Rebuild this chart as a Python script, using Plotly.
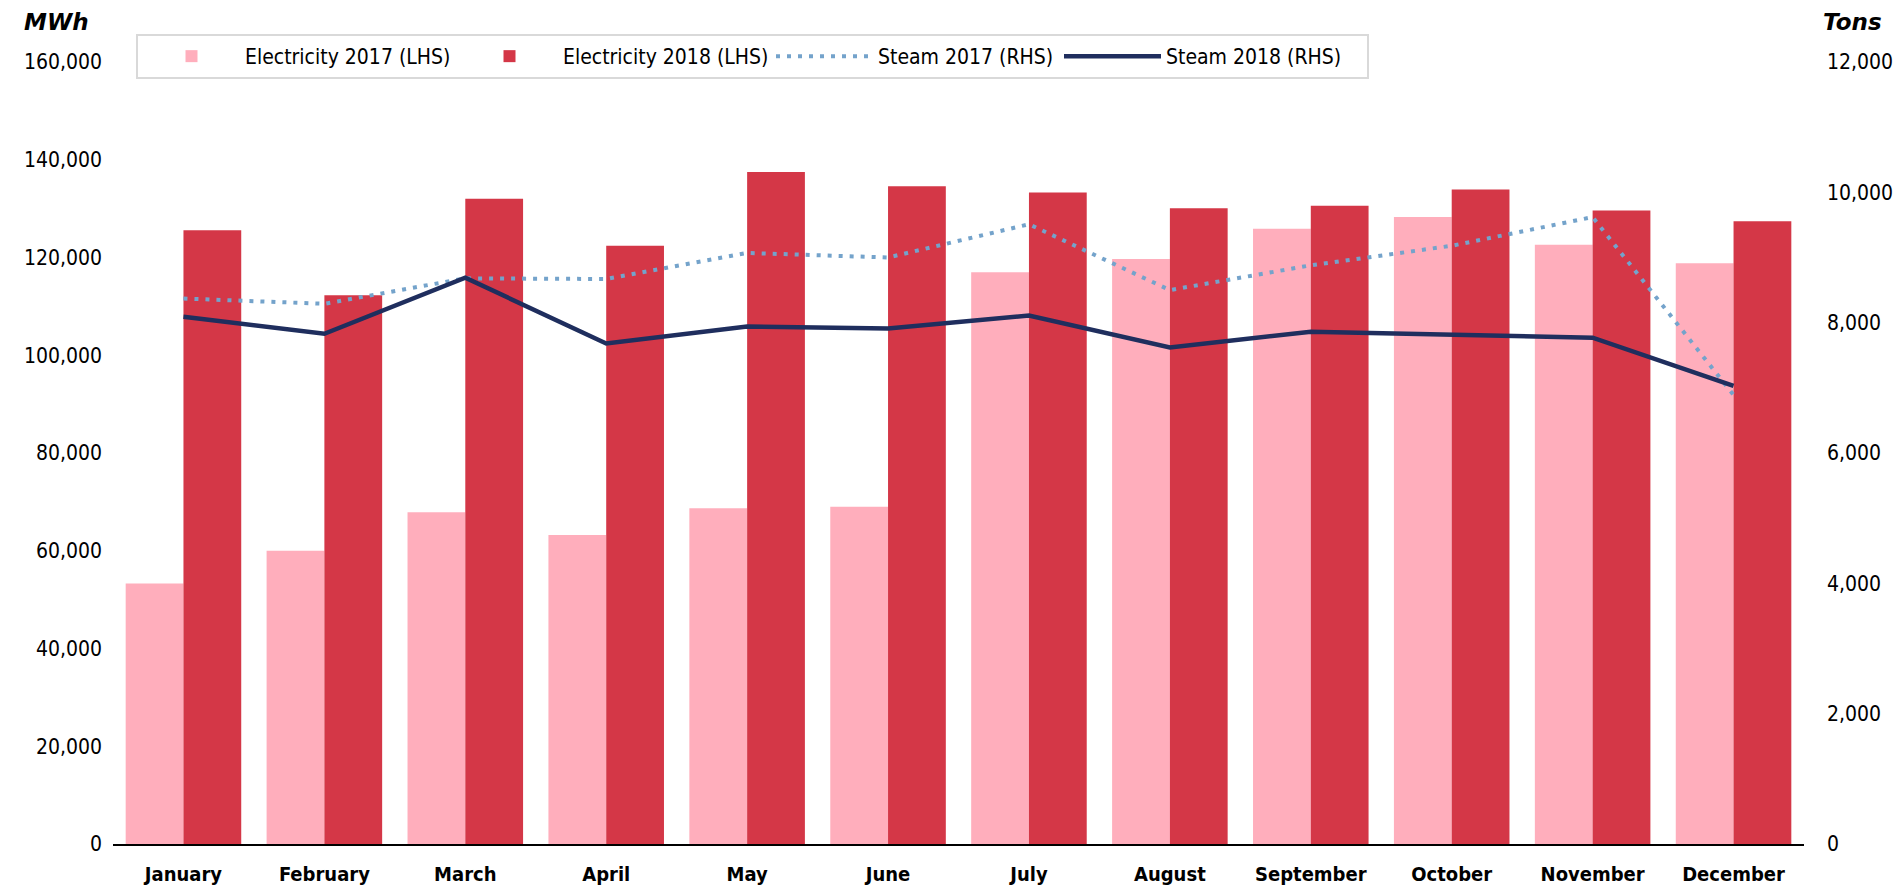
import plotly.graph_objects as go

months = ["January", "February", "March", "April", "May", "June", "July",
          "August", "September", "October", "November", "December"]
elec_2017 = [53300, 60000, 67900, 63200, 68700, 69000, 117000, 119700, 125900, 128300, 122600, 118800]
elec_2018 = [125600, 112300, 132000, 122400, 137500, 134600, 133300, 130100, 130600, 133900, 129600, 127400]
steam_2017 = [8370, 8290, 8680, 8670, 9070, 9000, 9510, 8500, 8880, 9180, 9620, 6890]
steam_2018 = [8090, 7830, 8690, 7680, 7940, 7910, 8110, 7620, 7860, 7810, 7770, 7030]

left_ticks = list(range(0, 160001, 20000))
right_ticks = list(range(0, 12001, 2000))

W, H = 1898, 887
L, R, T, B = 113, 1804, 62, 844

cond = "DejaVu Sans Condensed, DejaVu Sans, sans-serif"
tick_font = dict(family=cond, size=21, color="#000000")

fig = go.Figure()
fig.add_trace(go.Bar(x=months, y=elec_2017, name="Electricity 2017 (LHS)", legendwidth=206,
                     marker=dict(color="#FFAEBC", line=dict(width=0))))
fig.add_trace(go.Bar(x=months, y=elec_2018, name="Electricity 2018 (LHS)", legendwidth=203,
                     marker=dict(color="#D43747", line=dict(width=0))))
fig.add_trace(go.Scatter(x=months, y=steam_2017, name="Steam 2017 (RHS)", yaxis="y2", legendwidth=176,
                         mode="lines", line=dict(color="#74A3CB", width=4, dash="4px,7px")))
fig.add_trace(go.Scatter(x=months, y=steam_2018, name="Steam 2018 (RHS)", yaxis="y2", legendwidth=196,
                         mode="lines", line=dict(color="#1F2E5E", width=4.5)))

fig.update_layout(
    width=W, height=H,
    margin=dict(l=L, r=W - R, t=T, b=H - B, pad=0, autoexpand=False),
    paper_bgcolor="white", plot_bgcolor="white",
    barmode="group", bargap=0.18, bargroupgap=0,
    showlegend=True,
    legend=dict(orientation="h", x=(136 - L) / (R - L), y=(B - 34) / (B - T),
                xanchor="left", yanchor="top",
                bgcolor="white", bordercolor="#D9D9D9", borderwidth=2,
                font=dict(family=cond, size=21, color="#000000"),
                itemwidth=97, tracegroupgap=0),
    xaxis=dict(showline=True, linecolor="#000000", linewidth=2, ticks="",
               showgrid=False, zeroline=False, automargin=False,
               tickfont=dict(family=cond, size=20, color="#000000", weight="bold"),
               ticklabelstandoff=11),
    yaxis=dict(range=[0, 160000], tickvals=left_ticks, tickformat=",",
               showgrid=False, zeroline=False, showline=False, ticks="", automargin=False,
               tickfont=tick_font, ticklabelstandoff=10),
    yaxis2=dict(range=[0, 12000], tickvals=right_ticks, tickformat=",",
                overlaying="y", side="right", automargin=False,
                showgrid=False, zeroline=False, showline=False, ticks="",
                tickfont=tick_font, ticklabelstandoff=22),
    annotations=[
        dict(text="<b><i>MWh</i></b>", xref="paper", yref="paper",
             x=(57 - L) / (R - L), y=(B - 22) / (B - T), xanchor="center", yanchor="middle",
             showarrow=False, font=dict(family="DejaVu Sans, sans-serif", size=23, color="#000000")),
        dict(text="<b><i>Tons</i></b>", xref="paper", yref="paper",
             x=(1853 - L) / (R - L), y=(B - 22) / (B - T), xanchor="center", yanchor="middle",
             showarrow=False, font=dict(family="DejaVu Sans, sans-serif", size=23, color="#000000")),
    ],
)

fig.write_html("out.html", config={"displayModeBar": False},
               post_script="document.body.style.margin='0';")
